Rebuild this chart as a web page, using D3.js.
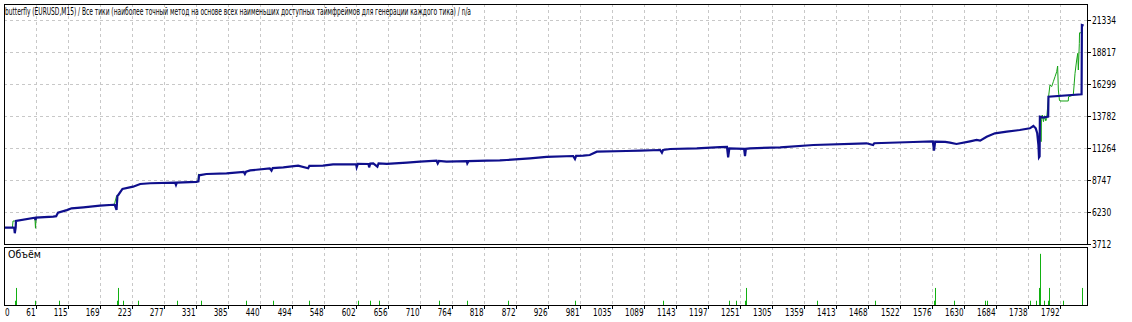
<!DOCTYPE html>
<html lang="ru">
<head>
    <meta charset="UTF-8">
    <title>butterfly</title>
    <script src="https://cdnjs.cloudflare.com/ajax/libs/d3/7.8.5/d3.min.js"></script>
    <style>
        html, body { margin: 0; padding: 0; background: #fff; }
        svg { display: block; }
    </style>
</head>
<body>
<svg id='tester' width='1132' height='322'></svg>
</body>
</html>
<script>
    var title = 'butterfly (EURUSD,M15) / Все тики (наиболее точный метод на основе всех наименьших доступных таймфреймов для генерации каждого тика) / n/a'
    var volumeTitle = 'Объём'

    // подписи осей
    var yTicks = [21334, 18817, 16299, 13782, 11264, 8747, 6230, 3712]
    var xTicks = [0, 61, 115, 169, 223, 277, 331, 385, 440, 494, 548, 602, 656, 710, 764, 818, 872, 926,
        981, 1035, 1089, 1143, 1197, 1251, 1305, 1359, 1413, 1468, 1522, 1576, 1630, 1684, 1738, 1792]

    // баланс: [номер сделки, значение]
    var balance = [
        [7, 5000], [22, 5000], [24, 4990], [25, 4560], [26.5, 5000], [27, 5520], [59, 5780], [60, 5600], [61, 5790],
        [90, 5860], [95, 5900], [96, 5990], [98, 6175], [113, 6380], [121, 6520], [141, 6600], [169, 6725],
        [192, 6800], [194, 6780], [197, 6390], [198.5, 7500], [200, 7567], [207, 8039], [225, 8220], [237, 8430],
        [254, 8490], [296, 8535], [297.5, 8353], [299, 8540], [332, 8600], [335.5, 8640], [336.5, 9116],
        [349, 9220], [383, 9270], [412, 9380], [414, 9219], [416, 9400], [423, 9500], [456, 9667], [459, 9480],
        [461, 9680], [479, 9746], [504, 9872], [521, 9667], [523, 9860], [546, 9872], [563, 9982], [602, 10000],
        [603, 9746], [605, 10010], [623, 10006], [624, 9746], [626, 10040], [631, 10060], [638, 9800], [640, 10050],
        [654, 10010], [688, 10108], [710, 10187], [738, 10265], [740, 10060], [742, 10250], [755, 10187],
        [789, 10230], [790, 10060], [792, 10230], [823, 10265], [845, 10290], [857, 10320], [896, 10454],
        [924, 10560], [969, 10635], [972, 10400], [974, 10650], [986, 10660], [997, 10713], [1009, 10974],
        [1059, 11029], [1082, 11060], [1116, 11107], [1119, 10895], [1121, 11110], [1133, 11186], [1178, 11241],
        [1217, 11330], [1229, 11350], [1231, 10533], [1233, 11240], [1258, 11200], [1259.5, 10635], [1261, 11200],
        [1268, 11241], [1319, 11320], [1375, 11500], [1465, 11634], [1476, 11500], [1478, 11640], [1544, 11736],
        [1577, 11791], [1579, 11052], [1581, 11760], [1598, 11740], [1606, 11682], [1617, 11579], [1640, 11791],
        [1651, 11894], [1657, 11840], [1668, 12153], [1682, 12420], [1702, 12546], [1724, 12680], [1741, 12813],
        [1747, 12995], [1751, 12813], [1753.5, 12420], [1755.5, 11500], [1756.5, 10532], [1757.5, 10600],
        [1758, 13727], [1764, 13650], [1772, 13727], [1772.5, 15300], [1828.5, 15490], [1829, 20940], [1832, 20900]
    ]

    // средства: только участки, где они отходят от баланса
    var equitySpikes = [
        [[21, 5000], [22, 5520], [27, 5520]],
        [[59, 5780], [60, 4950], [61, 5790]],
        [[192, 6800], [194, 6950], [197, 7480], [199, 7560]],
        [[335, 8640], [335.5, 9200], [338, 9150]],
        [[1758, 13727], [1759.5, 13700], [1760, 11760], [1760.5, 13500], [1762, 13860], [1764, 13337], [1766, 13800],
            [1768, 13400], [1769.5, 13600], [1772.3, 15150], [1775, 16220], [1778, 16100], [1780.7, 16480],
            [1783.6, 16873], [1786.4, 17266], [1788, 17715], [1789.2, 15827], [1791, 15040], [1792, 14962],
            [1806, 14962], [1806.5, 15300], [1814.5, 15430], [1817.4, 17140], [1820.2, 18187], [1822, 18712],
            [1823, 17400], [1824.7, 19500], [1825, 20328], [1830.4, 20328]]
    ]

    // объём: [номер сделки, лоты]
    var volume = [
        [25.4, 1], [27.6, 4], [60, 1], [99, 1], [197, 1], [200, 4], [208.5, 1], [234, 1], [300, 1], [339, 1],
        [416, 1], [461, 1], [523, 1], [606, 1], [626, 1], [641, 1], [743, 1], [790, 1], [859, 1], [972, 1],
        [1121, 1], [1233, 1], [1245, 1], [1260, 1], [1261, 4], [1381, 1], [1480, 1], [1579, 1], [1581, 4],
        [1613, 1], [1666, 1], [1669, 1], [1742, 1], [1752, 1], [1756, 4], [1759, 12], [1765.5, 1], [1772, 1],
        [1774, 4], [1797.6, 1], [1830, 4]
    ]

    var left = 4, right = 1087,
        mainTop = 4, mainBottom = 244,   // основная панель
        volTop = 247, volBottom = 305     // панель объёма

    var x = d3.scaleLinear().domain([0, 1792]).range([0, 1060])
    var y = d3.scaleLinear().domain([3712, 21334]).range([mainBottom, 20])
    var yv = d3.scaleLinear().domain([0, 13.6]).range([volBottom, volTop])

    var svg = d3.select('#tester')
    svg.append('rect').attr('width', 1132).attr('height', 322).style('fill', '#fff')

    var defs = svg.append('defs')
    defs.append('clipPath').attr('id', 'clipMain').append('rect')
        .attr('x', left).attr('y', mainTop).attr('width', right - left).attr('height', mainBottom - mainTop)
    defs.append('clipPath').attr('id', 'clipVol').append('rect')
        .attr('x', left).attr('y', volTop).attr('width', right - left).attr('height', volBottom - volTop)

    function px(v) { return Math.round(v) + 0.5 }

    // сетка
    var grid = svg.append('g').style('stroke', '#c8c8c8').style('stroke-dasharray', '3,3')
        .style('shape-rendering', 'crispEdges')
    xTicks.slice(1).forEach(function (t) {
        grid.append('line').attr('x1', px(x(t))).attr('x2', px(x(t))).attr('y1', mainTop).attr('y2', mainBottom)
        grid.append('line').attr('x1', px(x(t))).attr('x2', px(x(t))).attr('y1', volTop).attr('y2', volBottom)
    })
    yTicks.slice(0, -1).forEach(function (t) {
        grid.append('line').attr('x1', left).attr('x2', right).attr('y1', px(y(t))).attr('y2', px(y(t)))
    })

    // средства (зелёная) под балансом
    var line = d3.line().x(function (d) { return x(d[0]) }).y(function (d) { return y(d[1]) })
    var plot = svg.append('g').attr('clip-path', 'url(#clipMain)')
    plot.selectAll('.equity').data(equitySpikes).enter().append('path')
        .attr('class', 'equity')
        .attr('d', line)
        .style('fill', 'none').style('stroke', '#16a316').style('stroke-width', 1)

    plot.append('path').datum(balance)
        .attr('d', line)
        .style('fill', 'none').style('stroke', '#0f0f8c').style('stroke-width', 2.2)
        .style('stroke-linejoin', 'miter')

    // объём
    svg.append('g').attr('clip-path', 'url(#clipVol)')
        .selectAll('rect').data(volume).enter().append('rect')
        .attr('x', function (d) { return Math.round(x(d[0])) })
        .attr('width', 1)
        .attr('y', function (d) { return yv(d[1]) })
        .attr('height', function (d) { return volBottom - yv(d[1]) })
        .style('fill', '#12b012')

    // рамки
    var frames = svg.append('g').style('fill', 'none').style('stroke', '#000').style('shape-rendering', 'crispEdges')
    frames.append('rect').attr('x', left + 0.5).attr('y', mainTop + 0.5)
        .attr('width', right - left).attr('height', mainBottom - mainTop)
    frames.append('rect').attr('x', left + 0.5).attr('y', volTop + 0.5)
        .attr('width', right - left).attr('height', volBottom - volTop)

    var font = '"DejaVu Sans Condensed", "DejaVu Sans", sans-serif'

    // подписи справа
    yTicks.forEach(function (t) {
        var yy = px(y(t))
        frames.append('line').attr('x1', right).attr('x2', right + 4).attr('y1', yy).attr('y2', yy)
        svg.append('text').attr('x', right + 5).attr('y', yy + 3.5)
            .attr('textLength', String(t).length * 4.8).attr('lengthAdjust', 'spacingAndGlyphs')
            .style('font-family', font).style('font-size', '10px').style('fill', '#000')
            .text(t)
    })

    // подписи снизу
    xTicks.forEach(function (t, i) {
        var xx = px(x(t))
        if (i > 0) frames.append('line').attr('x1', xx).attr('x2', xx).attr('y1', volBottom).attr('y2', volBottom + 4)
        svg.append('text')
            .attr('x', i === 0 ? 5 : xx - 1).attr('y', 316)
            .attr('textLength', String(t).length * 4.6).attr('lengthAdjust', 'spacingAndGlyphs')
            .style('text-anchor', i === 0 ? 'start' : 'end')
            .style('font-family', font).style('font-size', '10px').style('fill', '#000')
            .text(t)
    })

    svg.append('text').attr('x', 5).attr('y', 15)
        .attr('textLength', 466).attr('lengthAdjust', 'spacingAndGlyphs')
        .style('font-family', font).style('font-size', '11px').style('fill', '#000')
        .text(title)

    svg.append('text').attr('x', 8).attr('y', 258)
        .style('font-family', font).style('font-size', '10.5px').style('fill', '#000')
        .text(volumeTitle)
</script>
